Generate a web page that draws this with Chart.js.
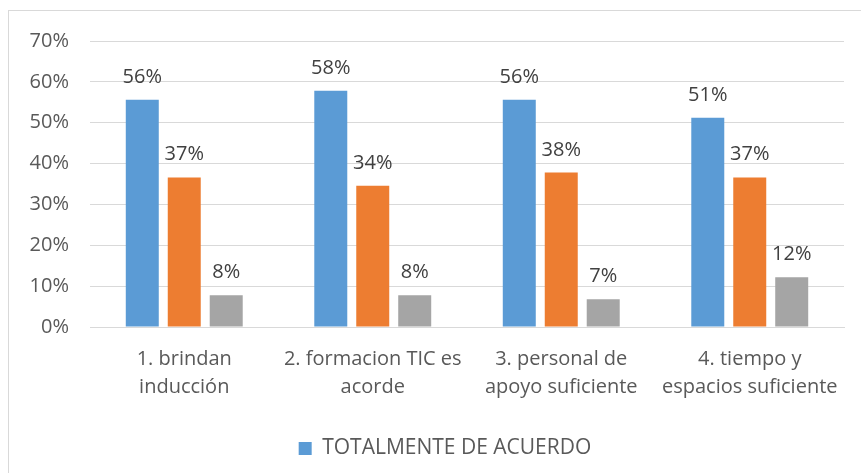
<!DOCTYPE html>
<html>
<head>
<meta charset="utf-8">
<script src="https://cdn.jsdelivr.net/npm/chart.js@4/dist/chart.umd.min.js"></script>
<style>
html,body{margin:0;padding:0;background:#fff;}
#frame{position:absolute;left:8px;top:10px;width:900px;height:500px;border:1px solid #d9d9d9;box-sizing:border-box;}
#wrap{position:absolute;left:0;top:0;width:861px;height:473px;}
</style>
</head>
<body>
<div id="frame"></div>
<div id="wrap"><canvas id="c" width="861" height="473"></canvas></div>
<script>
const categories = [
  ["1. brindan", "inducción"],
  ["2. formacion TIC es", "acorde"],
  ["3. personal de", "apoyo suficiente"],
  ["4. tiempo y", "espacios suficiente"]
];
const seriesNames = ["TOTALMENTE DE ACUERDO", "DE ACUERDO", "EN DESACUERDO"];
const totalmente = [55.6, 57.8, 55.6, 51.2];
const deAcuerdo = [36.6, 34.6, 37.8, 36.6];
const desacuerdo = [7.8, 7.8, 6.8, 12.2];
const displayLabels = [
  ["56%", "58%", "56%", "51%"],
  ["37%", "34%", "38%", "37%"],
  ["8%", "8%", "7%", "12%"]
];
const yTicks = [0, 10, 20, 30, 40, 50, 60, 70];

const FONT = "'Open Sans', sans-serif";

const valueLabels = {
  id: 'valueLabels',
  afterDatasetsDraw(chart) {
    const ctx = chart.ctx;
    ctx.save();
    ctx.font = "20px " + FONT;
    ctx.fillStyle = '#404040';
    ctx.textAlign = 'center';
    ctx.textBaseline = 'alphabetic';
    chart.data.datasets.forEach((ds, di) => {
      const meta = chart.getDatasetMeta(di);
      meta.data.forEach((bar, i) => {
        ctx.fillText(displayLabels[di][i], bar.x, bar.y - 17);
      });
    });
    ctx.restore();
  }
};

const legendShift = {
  id: 'legendShift',
  afterLayout(chart) {
    if (chart.legend) {
      chart.legend.left += 10;
      chart.legend.right += 10;
    }
  }
};

new Chart(document.getElementById('c'), {
  type: 'bar',
  data: {
    labels: categories,
    datasets: [
      { label: seriesNames[0], data: totalmente, backgroundColor: '#5B9BD5' },
      { label: seriesNames[1], data: deAcuerdo, backgroundColor: '#ED7D31' },
      { label: seriesNames[2], data: desacuerdo, backgroundColor: '#A5A5A5' }
    ]
  },
  options: {
    responsive: false,
    animation: false,
    devicePixelRatio: 1,
    layout: { padding: { left: 26, right: 17, top: 41, bottom: 4 } },
    datasets: { bar: { categoryPercentage: 0.668, barPercentage: 0.786 } },
    scales: {
      x: {
        afterFit(axis) { axis.height = 101; },
        grid: { display: false, drawTicks: false },
        border: { display: true, color: '#d9d9d9', width: 1 },
        ticks: {
          color: '#595959',
          font: { family: FONT, size: 20, lineHeight: 1.4 },
          maxRotation: 0,
          autoSkip: false,
          padding: 18
        }
      },
      y: {
        min: 0,
        max: 70,
        afterFit(axis) { axis.width = 64; },
        afterBuildTicks(axis) { axis.ticks = yTicks.map(v => ({ value: v })); },
        grid: { color: '#d9d9d9', lineWidth: 1, drawTicks: false },
        border: { display: false },
        ticks: {
          color: '#595959',
          font: { family: FONT, size: 20 },
          padding: 21,
          callback: v => v + '%'
        }
      }
    },
    plugins: {
      legend: {
        position: 'bottom',
        labels: {
          filter: item => item.datasetIndex === 0,
          boxWidth: 13,
          boxHeight: 13,
          color: '#595959',
          font: { family: FONT, size: 21 },
          padding: 10
        }
      },
      tooltip: { enabled: false }
    }
  },
  plugins: [valueLabels, legendShift]
});
</script>
</body>
</html>
